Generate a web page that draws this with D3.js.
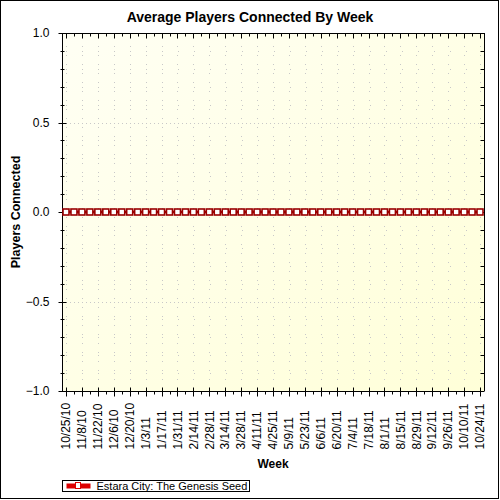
<!DOCTYPE html>
<html>
<head>
<meta charset="utf-8">
<script src="https://cdn.jsdelivr.net/npm/d3@7"></script>
<style>
  body { margin: 0; background: #fff; }
  text { font-family: "Liberation Sans", Arial, sans-serif; }
</style>
</head>
<body>
<div id="chart"></div>
<script>
// weekly samples, 10/25/10 .. 10/24/11
var weeks = ["10/25/10","11/1/10","11/8/10","11/15/10","11/22/10","11/29/10","12/6/10","12/13/10",
  "12/20/10","12/27/10","1/3/11","1/10/11","1/17/11","1/24/11","1/31/11","2/7/11","2/14/11","2/21/11",
  "2/28/11","3/7/11","3/14/11","3/21/11","3/28/11","4/4/11","4/11/11","4/18/11","4/25/11","5/2/11",
  "5/9/11","5/16/11","5/23/11","5/30/11","6/6/11","6/13/11","6/20/11","6/27/11","7/4/11","7/11/11",
  "7/18/11","7/25/11","8/1/11","8/8/11","8/15/11","8/22/11","8/29/11","9/5/11","9/12/11","9/19/11",
  "9/26/11","10/3/11","10/10/11","10/17/11","10/24/11"]
var players = [0,0,0,0,0,0,0,0,0,0,0,0,0,0,0,0,0,0,0,0,0,0,0,0,0,0,0,0,0,0,0,0,0,0,0,0,0,0,0,0,0,0,0,0,0,0,0,0,0,0,0,0,0]
var yMajor = [-1, -0.5, 0, 0.5, 1]
var yMinor = [-0.9,-0.8,-0.7,-0.6,-0.4,-0.3,-0.2,-0.1,0.1,0.2,0.3,0.4,0.6,0.7,0.8,0.9]
var seriesName = "Estara City: The Genesis Seed"

var width = 500, height = 500
var plot = {left: 62, right: 484, top: 33, bottom: 391}

var svg = d3.select("#chart").append("svg")
    .attr("width", width)
    .attr("height", height)

var defs = svg.append("defs")
var grad = defs.append("linearGradient")
    .attr("id", "bg").attr("x1", "0").attr("y1", "0").attr("x2", "1").attr("y2", "1")
grad.append("stop").attr("offset", "0").attr("stop-color", "#fffff4")
grad.append("stop").attr("offset", "1").attr("stop-color", "#ffffd8")

svg.append("rect")
    .attr("x", 0.5).attr("y", 0.5)
    .attr("width", 498).attr("height", 498)
    .attr("fill", "#fff").attr("stroke", "#000")

var x = d3.scalePoint()
    .domain(weeks)
    .range([plot.left + 4, plot.right - 4])

var y = d3.scaleLinear()
    .domain([-1, 1])
    .range([plot.bottom, plot.top])

svg.append("rect")
    .attr("x", plot.left).attr("y", plot.top)
    .attr("width", plot.right - plot.left)
    .attr("height", plot.bottom - plot.top)
    .attr("fill", "url(#bg)")

var labelled = weeks.filter(function(d, i) { return i % 2 == 0 })

// dotted grid
var grid = svg.append("g")
grid.selectAll(".vgrid")
    .data(labelled)
    .enter().append("line")
    .attr("x1", function(d) { return Math.round(x(d)) + 0.5 })
    .attr("x2", function(d) { return Math.round(x(d)) + 0.5 })
    .attr("y1", plot.top + 4)
    .attr("y2", plot.bottom)
    .attr("stroke", "#c8c8c8")
    .attr("stroke-dasharray", "1,8")
grid.selectAll(".hgrid")
    .data(yMajor.concat(yMinor))
    .enter().append("line")
    .attr("x1", plot.left + 4)
    .attr("x2", plot.right)
    .attr("y1", function(d) { return Math.round(y(d)) + 0.5 })
    .attr("y2", function(d) { return Math.round(y(d)) + 0.5 })
    .attr("stroke", "#c8c8c8")
    .attr("stroke-dasharray", function(d) { return yMajor.indexOf(d) >= 0 ? "1,3" : "1,15" })

// y axis, left
var yAxis = svg.append("g").attr("transform", "translate(" + (plot.left + 0.5) + ",0)")
yAxis.append("line")
    .attr("y1", plot.top).attr("y2", plot.bottom)
    .attr("stroke", "#000")
yAxis.selectAll(".major")
    .data(yMajor)
    .enter().append("line")
    .attr("x1", -4).attr("x2", 4)
    .attr("y1", function(d) { return Math.round(y(d)) + 0.5 })
    .attr("y2", function(d) { return Math.round(y(d)) + 0.5 })
    .attr("stroke", "#000")
yAxis.selectAll(".minor")
    .data(yMinor)
    .enter().append("line")
    .attr("x1", -2).attr("x2", 2)
    .attr("y1", function(d) { return Math.round(y(d)) + 0.5 })
    .attr("y2", function(d) { return Math.round(y(d)) + 0.5 })
    .attr("stroke", "#000")
yAxis.selectAll("text")
    .data(yMajor)
    .enter().append("text")
    .attr("x", -13)
    .attr("y", function(d) { return y(d) })
    .attr("dy", "0.35em")
    .attr("text-anchor", "end")
    .attr("font-size", "12px")
    .text(d3.format(".1f"))

// y axis, right (mirror)
var yRight = svg.append("g").attr("transform", "translate(" + (plot.right + 0.5) + ",0)")
yRight.append("line")
    .attr("y1", plot.top).attr("y2", plot.bottom)
    .attr("stroke", "#000")
yRight.selectAll(".tick")
    .data(yMajor.concat(yMinor))
    .enter().append("line")
    .attr("x1", -4).attr("x2", 0)
    .attr("y1", function(d) { return Math.round(y(d)) + 0.5 })
    .attr("y2", function(d) { return Math.round(y(d)) + 0.5 })
    .attr("stroke", "#000")

// x axis, bottom
var xAxis = svg.append("g").attr("transform", "translate(0," + (plot.bottom + 0.5) + ")")
xAxis.append("line")
    .attr("x1", plot.left).attr("x2", plot.right)
    .attr("stroke", "#000")
xAxis.selectAll(".tick")
    .data(weeks)
    .enter().append("line")
    .attr("x1", function(d) { return Math.round(x(d)) + 0.5 })
    .attr("x2", function(d) { return Math.round(x(d)) + 0.5 })
    .attr("y1", function(d, i) { return i % 2 == 0 ? -4 : 0 })
    .attr("y2", function(d, i) { return i % 2 == 0 ? 5 : 3 })
    .attr("stroke", "#000")
xAxis.selectAll("text")
    .data(labelled)
    .enter().append("text")
    .attr("transform", function(d) { return "translate(" + x(d) + ",58) rotate(-90)" })
    .attr("dy", "0.35em")
    .attr("text-anchor", "start")
    .attr("font-size", "12px")
    .text(function(d) { return d })

// x axis, top (mirror)
var xTop = svg.append("g").attr("transform", "translate(0," + (plot.top + 0.5) + ")")
xTop.append("line")
    .attr("x1", plot.left).attr("x2", plot.right + 1)
    .attr("stroke", "#000")
xTop.selectAll(".tick")
    .data(weeks)
    .enter().append("line")
    .attr("x1", function(d) { return Math.round(x(d)) + 0.5 })
    .attr("x2", function(d) { return Math.round(x(d)) + 0.5 })
    .attr("y1", 0)
    .attr("y2", function(d, i) { return i % 2 == 0 ? 5 : 3 })
    .attr("stroke", "#000")

// series
var line = d3.line()
    .x(function(d, i) { return x(weeks[i]) })
    .y(function(d) { return y(d) })

svg.append("path")
    .datum(players)
    .attr("d", line)
    .attr("fill", "none")
    .attr("stroke", "#9a0000")
    .attr("stroke-width", 2.5)

svg.selectAll(".marker")
    .data(players)
    .enter().append("rect")
    .attr("class", "marker")
    .attr("x", function(d, i) { return x(weeks[i]) - 3 })
    .attr("y", function(d) { return y(d) - 3 })
    .attr("width", 6).attr("height", 6)
    .attr("fill", "#fff")
    .attr("stroke", "#9a0000")
    .attr("stroke-width", 1.6)

// titles
svg.append("text")
    .attr("x", width / 2)
    .attr("y", 22)
    .attr("text-anchor", "middle")
    .attr("font-size", "14px")
    .attr("font-weight", "bold")
    .text("Average Players Connected By Week")

svg.append("text")
    .attr("x", (plot.left + plot.right) / 2)
    .attr("y", 468)
    .attr("text-anchor", "middle")
    .attr("font-size", "12px")
    .attr("font-weight", "bold")
    .text("Week")

svg.append("text")
    .attr("transform", "translate(20," + ((plot.top + plot.bottom) / 2) + ") rotate(-90)")
    .attr("text-anchor", "middle")
    .attr("font-size", "12.5px")
    .attr("font-weight", "bold")
    .text("Players Connected")

// legend
var legend = svg.append("g").attr("transform", "translate(62.5,480.5)")
legend.append("rect")
    .attr("width", 187).attr("height", 11)
    .attr("fill", "#fff").attr("stroke", "#000")
legend.append("rect")
    .attr("x", 4).attr("y", 3).attr("width", 24).attr("height", 5)
    .attr("fill", "#dd0000")
legend.append("rect")
    .attr("x", 13).attr("y", 2).attr("width", 5).attr("height", 6)
    .attr("fill", "#fff").attr("stroke", "#dd0000")
legend.append("text")
    .attr("x", 34).attr("y", 5.5)
    .attr("dy", "0.35em")
    .attr("font-size", "11px")
    .text(seriesName)
</script>
</body>
</html>
